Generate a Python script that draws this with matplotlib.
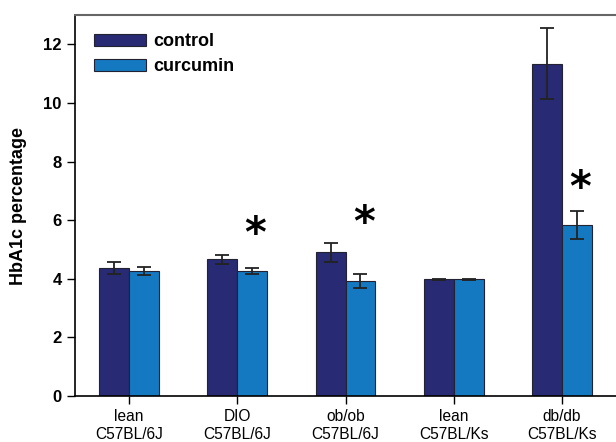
import matplotlib
matplotlib.use("Agg")
import matplotlib.pyplot as plt
import numpy as np

categories = ["lean\nC57BL/6J", "DIO\nC57BL/6J", "ob/ob\nC57BL/6J", "lean\nC57BL/Ks", "db/db\nC57BL/Ks"]
control = [4.37, 4.67, 4.90, 3.98, 11.34]
control_err = [0.20, 0.15, 0.33, 0.03, 1.22]
curcumin = [4.27, 4.26, 3.91, 3.98, 5.83]
curcumin_err = [0.14, 0.11, 0.24, 0.03, 0.48]
star_groups = [1, 2, 4]
star_y = [5.50, 5.88, 7.08]

fig = plt.figure(figsize=(6.16, 4.42), dpi=100)
ax = fig.add_axes([0.1218, 0.104, 0.8782, 0.862])

x = np.arange(len(categories))
w = 0.277
c1 = "#282A74"
c2 = "#1479C0"
ekw = dict(ecolor="#222222", elinewidth=1.3, capsize=5, capthick=1.3)
ax.bar(x - w/2, control, w, yerr=control_err, color=c1, edgecolor="#222233", linewidth=0.8, label="control", error_kw=ekw)
ax.bar(x + w/2, curcumin, w, yerr=curcumin_err, color=c2, edgecolor="#222233", linewidth=0.8, label="curcumin", error_kw=ekw)

for g, yy in zip(star_groups, star_y):
    ax.text(g + w/2 + 0.03, yy, "*", fontsize=30, fontweight="bold", ha="center", va="center")

ax.set_xlim(-0.5, 4.5)
ax.set_ylim(0, 13)
ax.set_yticks([0, 2, 4, 6, 8, 10, 12])
ax.set_xticks(x)
ax.set_xticklabels(categories, fontsize=11.2, family="Liberation Sans")
for lab in ax.get_yticklabels():
    lab.set_fontweight("bold")
    lab.set_fontsize(12)
    lab.set_family("Liberation Sans")
ax.set_ylabel("HbA1c percentage", fontsize=13, fontweight="bold", family="Liberation Sans", labelpad=12)

ax.spines["right"].set_visible(False)
ax.spines["top"].set_color("#666666")
ax.spines["top"].set_linewidth(1.5)
ax.spines["left"].set_linewidth(1.2)
ax.spines["bottom"].set_linewidth(1.2)
ax.tick_params(direction="out", length=6, width=1)

leg = ax.legend(loc="upper left", bbox_to_anchor=(0.005, 0.995), frameon=False,
                prop=dict(family="Liberation Sans", weight="bold", size=13),
                handlelength=2.9, handleheight=0.6, labelspacing=0.45, handletextpad=0.4)

fig.savefig("out.png", dpi=100)
